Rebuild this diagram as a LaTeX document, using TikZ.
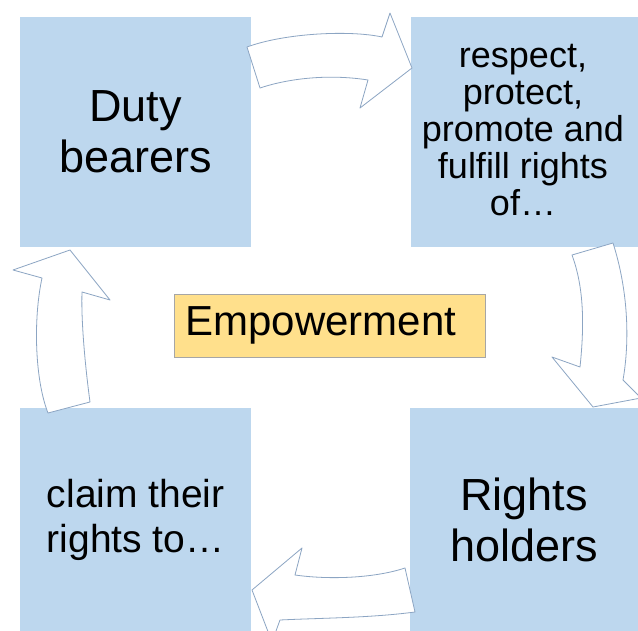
\documentclass[tikz,border=0pt]{standalone}
\usepackage{fontspec}
\setmainfont{Liberation Sans}
\definecolor{boxblue}{RGB}{189,215,238}
\definecolor{empfill}{RGB}{255,224,140}
\definecolor{arrline}{RGB}{140,165,195}
\begin{document}
\begin{tikzpicture}[x=1pt,y=-1pt,
  box/.style={fill=boxblue, draw=none, anchor=north west, minimum width=231pt, minimum height=230pt, align=center, inner sep=0pt},
  bigtext/.style={font=\fontsize{45}{51}\selectfont},
  smalltext/.style={font=\fontsize{36}{37}\selectfont},
  midtext/.style={font=\fontsize{39}{45}\selectfont},
  blockarrow/.style={fill=white, draw=arrline, line width=0.8pt, line join=round}]
\useasboundingbox (0,0) rectangle (638,631);
\clip (0,0) rectangle (638,631);
\fill[white] (0,0) rectangle (638,631);
\node[box, bigtext] (duty) at (20,17) {Duty\\bearers};
\node[box, minimum width=228pt] (respbox) at (411,17) {};
\node[smalltext, align=center, inner sep=0pt] (resp) at (523,130) {respect,\\protect,\\promote and\\fulfill rights\\of…};
\node[box, midtext, minimum height=224pt] (claim) at (20,408) {claim their\\rights to…};
\node[box, bigtext, minimum width=228pt, minimum height=224pt] (holders) at (410,408) {Rights\\holders};
\node[fill=empfill, draw=gray!70, line width=0.6pt, minimum width=311pt, minimum height=63pt, inner sep=0pt] (emp) at (329.5,325.5) {};
\node[font=\fontsize{42}{48}\selectfont, inner sep=0pt] (emptext) at (321,325.5) {Empowerment};
% top arrow (right)
\draw[blockarrow] (247,47) .. controls (285,33) and (350,30) .. (382,37)
  -- (390,13) -- (412,68) -- (360,108) -- (368,80)
  .. controls (330,74) and (290,78) .. (260,88) -- cycle;
% right arrow (down)
\draw[blockarrow] (572,255) -- (613,243)
  .. controls (628,290) and (630,340) .. (623,380)
  -- (641,398) -- (593,407) -- (552,357) -- (580,367)
  .. controls (585,320) and (583,285) .. cycle;
% bottom arrow (left)
\draw[blockarrow] (405,568) -- (415,612)
  .. controls (370,618) and (320,618) .. (280,620)
  -- (272,642) -- (252,590) -- (302,548) -- (295,575)
  .. controls (330,580) and (375,578) .. cycle;
% left arrow (up)
\draw[blockarrow] (48,413) -- (90,402)
  .. controls (85,365) and (81,320) .. (82,292)
  -- (110,300) -- (70,250) -- (13,270) -- (42,278)
  .. controls (33,320) and (35,380) .. cycle;
\end{tikzpicture}
\end{document}
